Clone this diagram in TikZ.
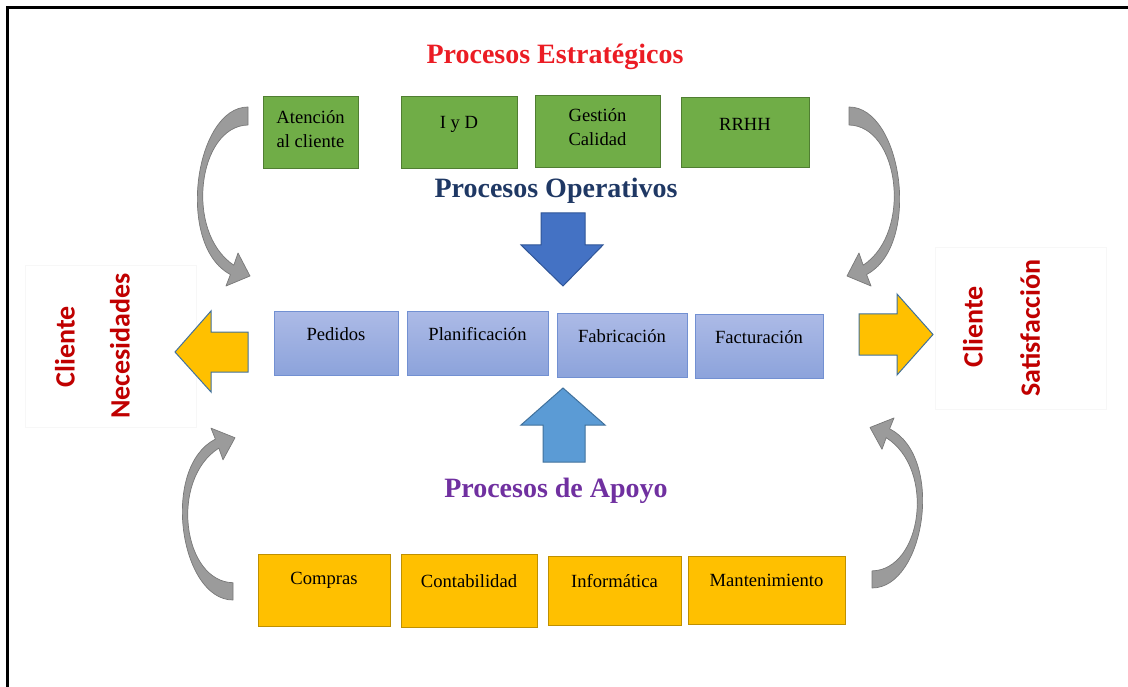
\documentclass[tikz,border=0pt]{standalone}
\usepackage{fontspec}
\setmainfont{Liberation Serif}
\newfontfamily\calibri{Carlito}
\definecolor{titlered}{RGB}{235,28,36}
\definecolor{navy}{RGB}{31,56,100}
\definecolor{apoyo}{RGB}{112,48,160}
\definecolor{clientred}{RGB}{192,0,0}
\definecolor{gfill}{RGB}{112,173,71}
\definecolor{gline}{RGB}{80,126,50}
\definecolor{yfill}{RGB}{255,192,0}
\definecolor{yline}{RGB}{191,144,0}
\definecolor{btop}{RGB}{172,186,230}
\definecolor{bbot}{RGB}{140,163,219}
\definecolor{bline}{RGB}{114,144,210}
\definecolor{darrow}{RGB}{68,114,196}
\definecolor{darrowline}{RGB}{47,85,151}
\definecolor{uarrow}{RGB}{91,155,213}
\definecolor{sideline}{RGB}{65,113,156}
\definecolor{grayfill}{RGB}{155,155,155}
\definecolor{grayline}{RGB}{120,120,120}
\begin{document}
\begin{tikzpicture}[x=1pt,y=-1pt,
  boxtext/.style={font=\fontsize{18.6}{24}\selectfont, align=center, inner sep=0pt},
  heading/.style={font=\fontsize{28}{30}\selectfont\bfseries, inner sep=0pt},
  clienttext/.style={font=\calibri\fontsize{28}{30}\selectfont\bfseries, text=clientred, rotate=90, inner sep=0pt},
  gbox/.style={draw=gline, fill=gfill, line width=1pt, minimum width=#1, minimum height=72pt, inner sep=0pt},
  ybox/.style={draw=yline, fill=yfill, line width=1pt, minimum width=#1, minimum height=72pt, inner sep=0pt},
  bbox/.style={draw=bline, top color=btop, bottom color=bbot, line width=1pt, minimum width=#1, minimum height=64pt, inner sep=0pt},
  sidebox/.style={draw=black!3, fill=white, line width=0.8pt, minimum width=171pt, minimum height=162pt, inner sep=0pt},
  bigarrow/.style={line width=1pt, line join=miter},
  grayband/.style={fill=grayfill, draw=grayline, line width=0.7pt, line join=round},
  curvarrow/.pic={
    \path[grayband] (0,0) .. controls (-53,0) and (-73,138) .. (-17.6,167.6)
      -- (-22,179) -- (2,169) -- (-10,146) -- (-14.2,158.2)
      .. controls (-64,125) and (-50,19) .. (0,18) -- cycle;
  }
]
\useasboundingbox (0,0) rectangle (1128,687);

% partial frame
\draw[line width=3pt] (7,687) -- (7,8) -- (1128,8);

% side boxes with client labels
\node[sidebox] (lbox) at (110.5,346) {};
\node[clienttext] (lcli) at (65,347) {Cliente};
\node[clienttext] (lnec) at (120,346) {Necesidades};
\node[sidebox] (rbox) at (1021,328) {};
\node[clienttext] (rcli) at (973,327) {Cliente};
\node[clienttext] (rsat) at (1030,328) {Satisfacción};

% strategic processes
\node[heading, text=titlered] (est) at (555,57) {Procesos Estratégicos};
\node[gbox=95pt]  (g1) at (310.5,132.5) {};
\node[gbox=116pt] (g2) at (459,133) {};
\node[gbox=125pt] (g3) at (597.5,132) {};
\node[gbox=128pt, minimum height=70pt] (g4) at (745,133) {};
\node[boxtext] (g1t) at (310.5,129) {Atención\\al cliente};
\node[boxtext] (g2t) at (459,124) {I y D};
\node[boxtext] (g3t) at (597.5,127.5) {Gestión\\Calidad};
\node[boxtext] (g4t) at (745,124) {RRHH};

% operative processes
\node[heading, text=navy] (ope) at (556,191) {Procesos Operativos};
\path[bigarrow, fill=darrow, draw=darrowline]
  (541,213) -- (585,213) -- (585,245) -- (603,245) -- (563,286)
  -- (521,245) -- (541,245) -- cycle;

\node[bbox=124pt] (b1) at (336,343.5) {};
\node[bbox=141pt] (b2) at (477.5,343.5) {};
\node[bbox=130pt] (b3) at (622,345.5) {};
\node[bbox=128pt, minimum height=63pt] (b4) at (759,346.5) {};
\node[boxtext] (b1t) at (336,334) {Pedidos};
\node[boxtext] (b2t) at (477.5,334) {Planificación};
\node[boxtext] (b3t) at (622,336) {Fabricación};
\node[boxtext] (b4t) at (759,337) {Facturación};

% arrows to the client
\path[bigarrow, fill=yfill, draw=sideline]
  (248,332) -- (211,332) -- (211,311) -- (175,352) -- (211,392)
  -- (211,372) -- (248,372) -- cycle;
\path[bigarrow, fill=yfill, draw=sideline]
  (859,314) -- (897,314) -- (897,294) -- (933,334.5) -- (897,375)
  -- (897,355) -- (859,355) -- cycle;

% support processes
\path[bigarrow, fill=uarrow, draw=sideline]
  (543,462) -- (585,462) -- (585,425) -- (605,425) -- (563,388)
  -- (521,425) -- (543,425) -- cycle;
\node[heading, text=apoyo] (apo) at (556,491) {Procesos de Apoyo};
\node[ybox=132pt] (y1) at (324,590) {};
\node[ybox=136pt, minimum height=73pt] (y2) at (469,590.5) {};
\node[ybox=133pt, minimum height=69pt] (y3) at (614.5,590.5) {};
\node[ybox=157pt, minimum height=68pt] (y4) at (766.5,590) {};
\node[boxtext] (y1t) at (324,580) {Compras};
\node[boxtext] (y2t) at (469,581) {Contabilidad};
\node[boxtext] (y3t) at (614.5,581) {Informática};
\node[boxtext] (y4t) at (766.5,580) {Mantenimiento};

% curved gray arrows
\pic at (248,107) {curvarrow};
\pic[xscale=-1] at (849,107) {curvarrow};
\pic[yscale=-0.96] at (233,600) {curvarrow};
\pic[xscale=-1, yscale=-0.95] at (872,588) {curvarrow};
\end{tikzpicture}
\end{document}
